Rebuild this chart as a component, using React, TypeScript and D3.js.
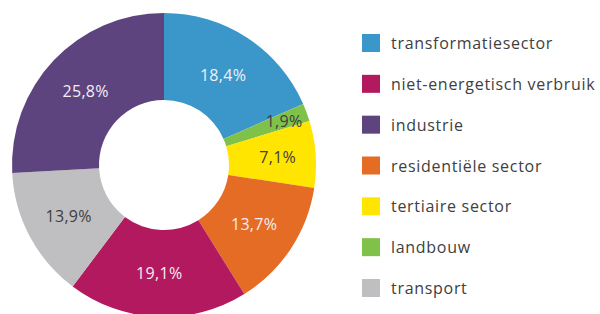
import React from "react";
import * as d3 from "d3";

// slices in drawing order, clockwise from 12 o'clock
const sliceNames = [
  "transformatiesector",
  "landbouw",
  "tertiaire sector",
  "residentiële sector",
  "niet-energetisch verbruik",
  "transport",
  "industrie",
];
const sliceValues = [18.4, 1.9, 7.1, 13.7, 19.1, 13.9, 25.8];

// legend order
const legendNames = [
  "transformatiesector",
  "niet-energetisch verbruik",
  "industrie",
  "residentiële sector",
  "tertiaire sector",
  "landbouw",
  "transport",
];

const colors: Record<string, string> = {
  transformatiesector: "#3b97c9",
  "niet-energetisch verbruik": "#b3195e",
  industrie: "#5e447e",
  "residentiële sector": "#e46c24",
  "tertiaire sector": "#ffe500",
  landbouw: "#80c14a",
  transport: "#bfbfc1",
};

const darkLabels = ["landbouw", "tertiaire sector", "transport"];

const fmt = (v: number) => v.toFixed(1).replace(".", ",") + "%";

export default function App() {
  const width = 600;
  const height = 314;
  const cx = 164;
  const cy = 165;
  const outer = 152;
  const inner = 65;

  const data = sliceNames.map((name, i) => ({ name, value: sliceValues[i] }));
  const pie = d3
    .pie<{ name: string; value: number }>()
    .sort(null)
    .value((d) => d.value);
  const arcs = pie(data);
  const arc = d3
    .arc<d3.PieArcDatum<{ name: string; value: number }>>()
    .innerRadius(inner)
    .outerRadius(outer);

  const labelPos = (a: d3.PieArcDatum<{ name: string; value: number }>) => {
    const mid = (a.startAngle + a.endAngle) / 2;
    const r = a.data.value < 3 ? 128 : a.data.value < 10 ? 114 : 108;
    return [Math.sin(mid) * r, -Math.cos(mid) * r];
  };

  const legendY = d3
    .scalePoint<string>()
    .domain(legendNames)
    .range([43, 288]);

  return (
    <svg
      width={width}
      height={height}
      style={{ position: "absolute", left: 0, top: 0, background: "#fff" }}
      fontFamily="'Open Sans', sans-serif"
    >
      <g transform={`translate(${cx},${cy})`}>
        {arcs.map((a) => (
          <path key={a.data.name} d={arc(a) || ""} fill={colors[a.data.name]} />
        ))}
        {arcs.map((a) => {
          const [x, y] = labelPos(a);
          return (
            <text
              key={a.data.name}
              x={x}
              y={y}
              textAnchor="middle"
              dominantBaseline="central"
              fontSize={16}
              letterSpacing={0.3}
              fill={darkLabels.includes(a.data.name) ? "#404040" : "#f4eef4"}
            >
              {fmt(a.data.value)}
            </text>
          );
        })}
      </g>
      <g>
        {legendNames.map((name) => (
          <g key={name} transform={`translate(362,${legendY(name)})`}>
            <rect x={0} y={-9} width={18} height={18} fill={colors[name]} />
            <text
              x={29}
              y={0}
              dominantBaseline="central"
              fontSize={16}
              letterSpacing={0.7}
              fill="#404040"
            >
              {name}
            </text>
          </g>
        ))}
      </g>
    </svg>
  );
}
